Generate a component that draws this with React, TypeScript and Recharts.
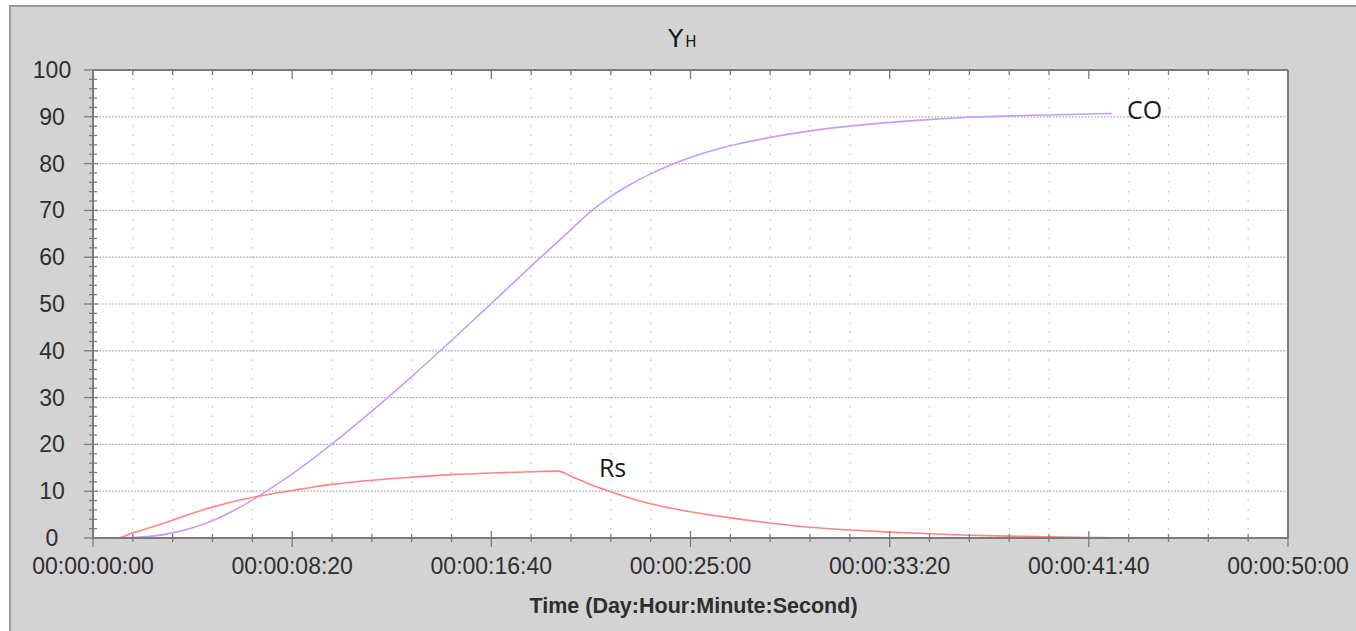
import React from 'react';
import {
  LineChart,
  Line,
  XAxis,
  YAxis,
  CartesianGrid,
  ReferenceLine,
  ReferenceDot,
} from 'recharts';

// Simulation time in seconds
const timeSec = [
  0, 60, 100, 150, 200, 250, 300, 350, 400, 450, 500, 550, 600, 700, 800, 900,
  1000, 1100, 1168, 1200, 1250, 1300, 1350, 1400, 1450, 1500, 1600, 1700, 1800,
  1900, 2000, 2100, 2200, 2300, 2400, 2500, 2558,
];

// Y_H for CO
const coValues = [
  0, 0, 0.1, 0.4, 1.1, 2.2, 3.7, 5.7, 8.1, 10.8, 13.7, 16.8, 20.1, 27.1, 34.5,
  42.2, 50.1, 58.1, 63.4, 65.9, 69.8, 73.0, 75.6, 77.8, 79.7, 81.3, 83.8, 85.6,
  87.0, 88.0, 88.8, 89.4, 89.9, 90.2, 90.4, 90.6, 90.7,
];

// Y_H for Rs
const rsValues = [
  0, 0, 1.1, 2.4, 3.8, 5.3, 6.6, 7.75, 8.65, 9.45, 10.15, 10.85, 11.45, 12.35,
  13.0, 13.55, 13.9, 14.15, 14.3, 13.2, 11.4, 9.9, 8.5, 7.3, 6.4, 5.6, 4.3, 3.2,
  2.3, 1.7, 1.25, 0.9, 0.6, 0.4, 0.25, 0.12, 0.05,
];

// Axis ticks
const xMajorTicks = [0, 500, 1000, 1500, 2000, 2500, 3000];
const xTickLabels = [
  '00:00:00:00',
  '00:00:08:20',
  '00:00:16:40',
  '00:00:25:00',
  '00:00:33:20',
  '00:00:41:40',
  '00:00:50:00',
];
const xAllTicks = Array.from({ length: 31 }, (_, i) => i * 100);
const xMinorTicks = xAllTicks.filter((t) => !xMajorTicks.includes(t));
const yMajorTicks = [0, 10, 20, 30, 40, 50, 60, 70, 80, 90, 100];
const yAllTicks = Array.from({ length: 51 }, (_, i) => i * 2);
const yGridValues = [10, 20, 30, 40, 50, 60, 70, 80, 90];

// Series name annotations (time, value)
const seriesLabels = [
  { name: 'CO', t: 2596, v: 89.5 },
  { name: 'Rs', t: 1270, v: 13.0 },
];

const data = timeSec.map((t, i) => ({ t, co: coValues[i], rs: rsValues[i] }));

const TICK_FONT = '"Liberation Sans", Arial, sans-serif';
const AXIS_COLOR = '#7a7a7a';
const TEXT_COLOR = '#2e2e2e';

const W = 1356;
const H = 631;

const BottomTick = (props: any) => {
  const { x, y, payload } = props;
  const idx = xMajorTicks.indexOf(payload.value);
  const major = idx >= 0;
  return (
    <g>
      <line
        x1={x}
        x2={x}
        y1={y - (major ? 7 : 4)}
        y2={y + (major ? 9 : 4)}
        stroke={AXIS_COLOR}
        strokeWidth={1.3}
      />
      {major && (
        <text
          x={x}
          y={y + 36}
          textAnchor="middle"
          fontFamily={TICK_FONT}
          fontSize={23}
          fill={TEXT_COLOR}
        >
          {xTickLabels[idx]}
        </text>
      )}
    </g>
  );
};

const TopTick = (props: any) => {
  const { x, y, payload } = props;
  const major = xMajorTicks.includes(payload.value);
  return (
    <line
      x1={x}
      x2={x}
      y1={y}
      y2={y + (major ? 9 : 5)}
      stroke={AXIS_COLOR}
      strokeWidth={1.3}
    />
  );
};

const LeftTick = (props: any) => {
  const { x, y, payload } = props;
  const major = yMajorTicks.includes(payload.value);
  return (
    <g>
      <line
        x1={x - (major ? 9 : 4)}
        x2={x + (major ? 5 : 4)}
        y1={y}
        y2={y}
        stroke={AXIS_COLOR}
        strokeWidth={1.3}
      />
      {major && (
        <text
          x={x - 41}
          y={y + 8}
          textAnchor="middle"
          fontFamily={TICK_FONT}
          fontSize={23}
          fill={TEXT_COLOR}
        >
          {payload.value}
        </text>
      )}
    </g>
  );
};

const AxisTitle = (props: any) => {
  const vb = props.viewBox || {};
  return (
    <text
      x={vb.x + vb.width / 2 + 3}
      y={vb.y + 75}
      textAnchor="middle"
      fontFamily={TICK_FONT}
      fontWeight="bold"
      fontSize={21.5}
      fill={TEXT_COLOR}
    >
      Time (Day:Hour:Minute:Second)
    </text>
  );
};

const makeSeriesLabel = (name: string) => (props: any) => {
  const vb = props.viewBox || {};
  return (
    <text
      x={vb.x}
      y={vb.y}
      fontFamily='"Open Sans", "Noto Sans", sans-serif'
      fontSize={25}
      fill="#1a1a1a"
    >
      {name}
    </text>
  );
};

export default function App() {
  return (
    <div
      style={{
        position: 'absolute',
        left: 0,
        top: 0,
        width: W,
        height: H,
        background: '#ffffff',
        overflow: 'hidden',
      }}
    >
      <div
        style={{
          position: 'absolute',
          left: 9,
          top: 5,
          width: W - 9,
          height: H - 5,
          background: '#d3d3d3',
          borderTop: '2px solid #9a9a9a',
          borderLeft: '2px solid #9a9a9a',
          boxSizing: 'border-box',
        }}
      />
      <div style={{ position: 'absolute', left: 0, top: 0 }}>
        <LineChart
          width={W}
          height={H}
          data={data}
          margin={{ top: 60, right: 68, bottom: 33, left: 33 }}
        >
          <CartesianGrid horizontal={false} vertical={false} fill="#ffffff" />
          <XAxis
            dataKey="t"
            type="number"
            domain={[0, 3000]}
            ticks={xAllTicks}
            interval={0}
            height={60}
            tickSize={0}
            tickMargin={0}
            tickLine={false}
            tick={<BottomTick />}
            axisLine={{ stroke: AXIS_COLOR, strokeWidth: 2 }}
            allowDataOverflow
            label={<AxisTitle />}
          />
          <XAxis
            xAxisId="top"
            orientation="top"
            dataKey="t"
            type="number"
            domain={[0, 3000]}
            ticks={xAllTicks}
            interval={0}
            height={10}
            tickSize={0}
            tickMargin={0}
            tickLine={false}
            tick={<TopTick />}
            axisLine={{ stroke: AXIS_COLOR, strokeWidth: 2 }}
          />
          <YAxis
            type="number"
            domain={[0, 100]}
            ticks={yAllTicks}
            interval={0}
            width={60}
            tickSize={0}
            tickMargin={0}
            tickLine={false}
            tick={<LeftTick />}
            axisLine={{ stroke: AXIS_COLOR, strokeWidth: 2 }}
            allowDataOverflow
          />
          {yGridValues.map((v) => (
            <ReferenceLine
              key={`h${v}`}
              y={v}
              stroke="#a8a8a8"
              strokeWidth={1.2}
              strokeDasharray="1.6 1.6"
            />
          ))}
          {xMinorTicks.map((t) => (
            <ReferenceLine
              key={`v${t}`}
              segment={[
                { x: t, y: 0 },
                { x: t, y: 100 },
              ]}
              stroke="#c4c4c4"
              strokeWidth={1.2}
              strokeDasharray="1.6 7.76"
              strokeDashoffset={0.8}
            />
          ))}
          <ReferenceLine x={3000} stroke={AXIS_COLOR} strokeWidth={2} />
          <Line
            type="monotone"
            dataKey="co"
            stroke="#c79cff"
            strokeWidth={1.6}
            dot={false}
            isAnimationActive={false}
          />
          <Line
            type="monotone"
            dataKey="rs"
            stroke="#ff8585"
            strokeWidth={1.6}
            dot={false}
            isAnimationActive={false}
          />
          {seriesLabels.map((s) => (
            <ReferenceDot
              key={s.name}
              x={s.t}
              y={s.v}
              r={0}
              fill="none"
              stroke="none"
              label={makeSeriesLabel(s.name)}
            />
          ))}
        </LineChart>
      </div>
      <svg
        width={W}
        height={H}
        style={{ position: 'absolute', left: 0, top: 0, pointerEvents: 'none' }}
      >
        <text
          x={668}
          y={47}
          fontFamily='"DejaVu Sans", Verdana, sans-serif'
          fontSize={25}
          fill="#1a1a1a"
        >
          Y
          <tspan fontSize={15} dx={2}>
            H
          </tspan>
        </text>
      </svg>
    </div>
  );
}
